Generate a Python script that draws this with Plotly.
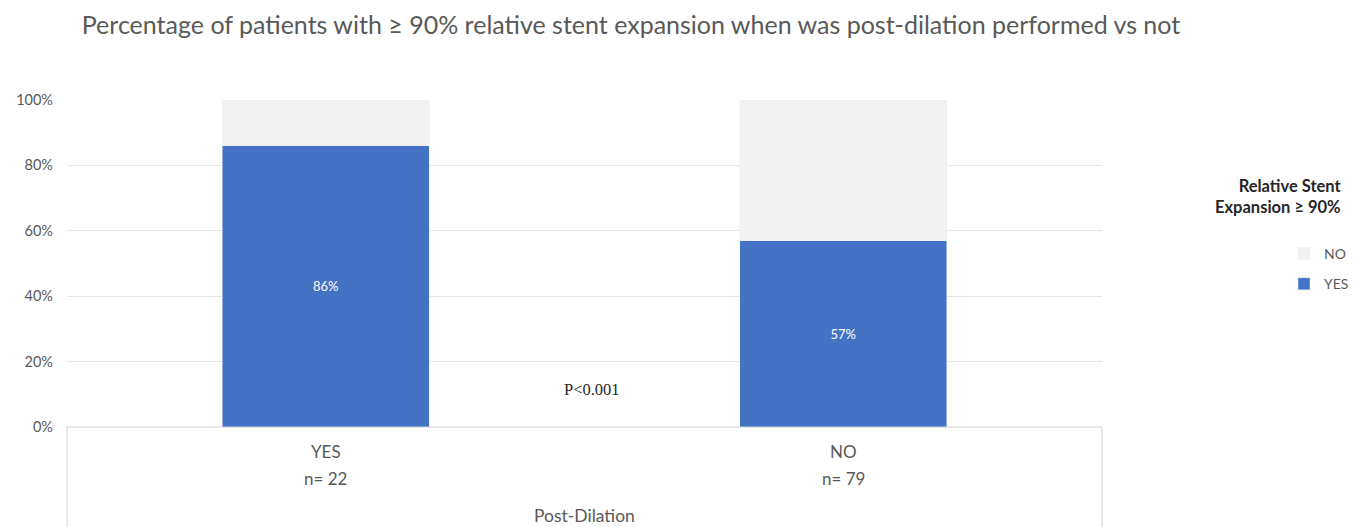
import plotly.graph_objects as go

categories = ["YES", "NO"]
n_counts = [22, 79]
yes_pct = [86, 57]
no_pct = [14, 43]
y_ticks = [0, 20, 40, 60, 80, 100]

title_text = "Percentage of patients with \u2265 90% relative stent expansion when was post-dilation performed vs not"
legend_title = "Relative Stent<br>Expansion \u2265 90%"
x_title = "Post-Dilation"
p_text = "P<0.001"

BLUE = "#4472C4"
LIGHT = "#F2F2F2"
GREY = "#595959"
FONT = "Lato"

fig = go.Figure()
fig.add_trace(go.Bar(
    x=categories, y=yes_pct, name="YES", marker_color=BLUE, width=0.4,
    text=[f"{v}%" for v in yes_pct], textposition="inside", insidetextanchor="middle",
    textfont=dict(color="white", size=13, family=FONT), legendrank=2, legendgroup="g_yes",
    hoverinfo="skip",
))
fig.add_trace(go.Bar(
    x=categories, y=no_pct, name="NO", marker_color=LIGHT, width=0.4,
    legendrank=1, legendgroup="g_no", hoverinfo="skip",
))

annotations = []
for c, n in zip(categories, n_counts):
    annotations.append(dict(x=c, xref="x", y=-25 / 327, yref="paper", text=c,
                            showarrow=False, yanchor="middle",
                            font=dict(family=FONT, size=17, color=GREY)))
    annotations.append(dict(x=c, xref="x", y=-51 / 327, yref="paper", text=f"n= {n}",
                            showarrow=False, yanchor="middle",
                            font=dict(family=FONT, size=17, color=GREY)))
annotations.append(dict(x=0.5, xref="paper", y=-88 / 327, yref="paper", text=x_title,
                        showarrow=False, yanchor="middle",
                        font=dict(family=FONT, size=17.5, color=GREY)))
annotations.append(dict(x=(591.5 - 67) / 1035, xref="paper", y=38 / 327, yref="paper", text=p_text,
                        showarrow=False, yanchor="middle",
                        font=dict(family="Liberation Serif", size=16.5, color="#262626")))
annotations.append(dict(x=(1343 - 67) / 1035, xref="paper", y=(427 - 174) / 327, yref="paper",
                        text=legend_title, showarrow=False, xanchor="right", yanchor="top",
                        align="right",
                        font=dict(family=FONT, size=16.5, color="#262626", weight="bold")))

fig.update_layout(
    width=1354, height=527,
    margin=dict(l=67, r=252, t=100, b=100),
    paper_bgcolor="white", plot_bgcolor="white",
    barmode="stack",
    title=dict(text=title_text, x=631 / 1354, xanchor="center", y=1 - 25 / 527, yanchor="middle",
               font=dict(family=FONT, size=25, color=GREY)),
    xaxis=dict(showticklabels=False, showline=False, showgrid=False, zeroline=False,
               fixedrange=True),
    yaxis=dict(range=[0, 100], tickmode="array", tickvals=y_ticks,
               ticktext=[f"{v}%" for v in y_ticks], showgrid=True,
               gridcolor="#E6E6E6", gridwidth=1, zeroline=False, showline=False,
               tickfont=dict(family=FONT, size=14.5, color=GREY), ticklen=0, ticks="",
               ticklabelstandoff=13, fixedrange=True),
    showlegend=True,
    legend=dict(xref="container", yref="container", x=1.0, xanchor="right",
                y=1 - 238 / 527, yanchor="top", traceorder="grouped", tracegroupgap=9,
                font=dict(family=FONT, size=14, color=GREY), itemwidth=30,
                bgcolor="rgba(0,0,0,0)"),
    annotations=annotations,
    shapes=[
        dict(type="line", xref="paper", yref="paper", x0=0, x1=1, y0=0, y1=0,
             line=dict(color="#D0D0D0", width=1)),
        dict(type="line", xref="paper", yref="paper", x0=0, x1=0, y0=0, y1=-100 / 327,
             line=dict(color="#D0D0D0", width=1)),
        dict(type="line", xref="paper", yref="paper", x0=1, x1=1, y0=0, y1=-100 / 327,
             line=dict(color="#D0D0D0", width=1)),
    ],
)

fig.write_html(
    "out.html",
    config={"displayModeBar": False},
    post_script="document.body.style.margin='0';document.body.style.overflow='hidden';",
)
